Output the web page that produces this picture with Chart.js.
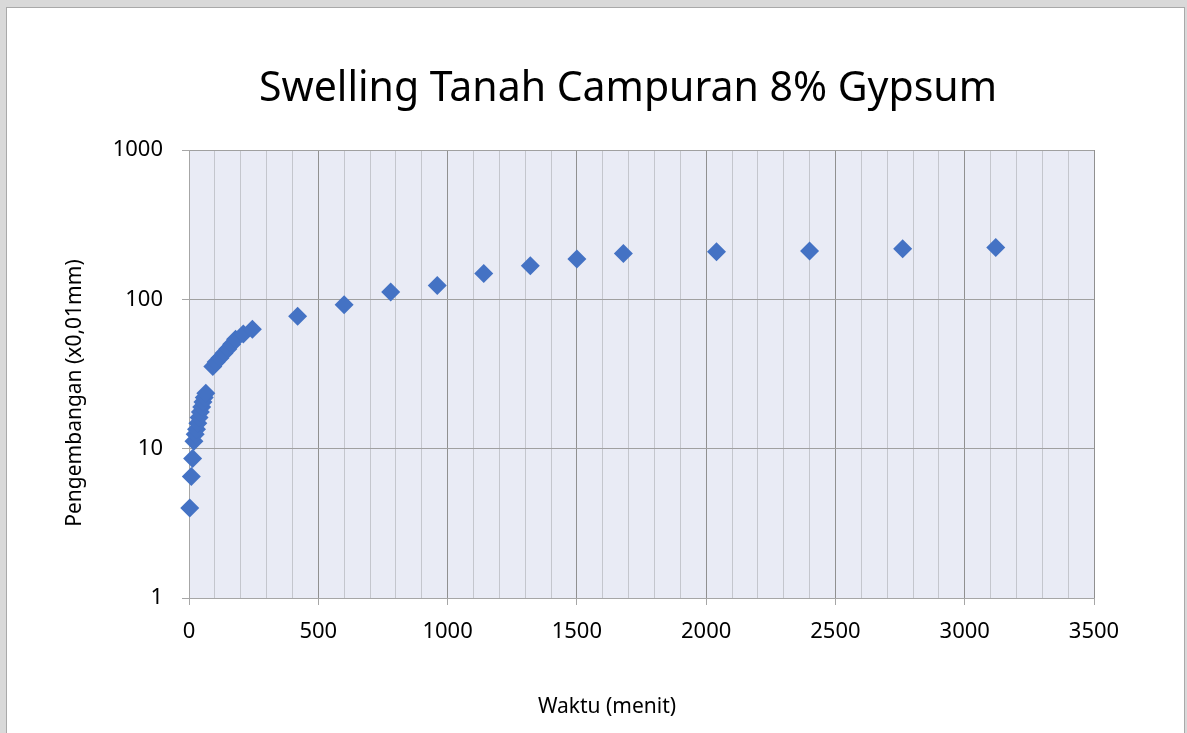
<!DOCTYPE html>
<html>
<head>
<meta charset="utf-8">
<script src="https://cdn.jsdelivr.net/npm/chart.js@4.4.0/dist/chart.umd.min.js"></script>
<style>
  body { margin: 0; background: #d9d9d9; width: 1187px; height: 733px; overflow: hidden; position: relative; }
  #box { position: absolute; left: 6px; top: 7px; width: 1177px; height: 740px; background: #fff; border: 1px solid #a9a9a9; }
  #chart { position: absolute; left: 0; top: 0; }
</style>
</head>
<body>
<div id="box"></div>
<canvas id="chart" width="1187" height="733"></canvas>
<script>
// Data
var waktu = [3, 9, 14, 19, 24, 29, 34, 39, 44, 49, 54, 59, 65,
             92, 105, 120, 135, 150, 165, 180, 210, 245,
             420, 600, 780, 960, 1140, 1320, 1500, 1680, 2040, 2400, 2760, 3120];
var pengembangan = [4.0, 6.5, 8.6, 11.2, 12.5, 13.5, 14.8, 16.2, 17.6, 19.0, 20.5, 22.0, 23.5,
                    35.5, 38.0, 40.5, 43.5, 46.5, 50.0, 54.0, 58.5, 63.0,
                    77, 92, 112, 124, 149, 168, 186, 203, 208, 211, 218, 222];
var yTicks = [1, 10, 100, 1000];
var xMajor = 500;
var xMinor = 100;

var chartTitle = 'Swelling Tanah Campuran 8% Gypsum';
var xTitle = 'Waktu (menit)';
var yTitle = 'Pengembangan (x0,01mm)';

var points = waktu.map(function(t, i) {
  return { x: t, y: pengembangan[i] };
});

var fontFamily = '"Noto Sans", "Open Sans", sans-serif';

// fill the plot area
var plotBg = {
  id: 'plotBg',
  beforeDraw: function(chart) {
    var a = chart.chartArea;
    var ctx = chart.ctx;
    ctx.save();
    ctx.fillStyle = '#e9ebf5';
    ctx.fillRect(a.left, a.top, a.right - a.left, a.bottom - a.top);
    ctx.restore();
  }
};

// chart and axis titles, placed like the excel original (not centred on the plot)
var titles = {
  id: 'titles',
  afterDraw: function(chart) {
    var ctx = chart.ctx;
    ctx.save();
    ctx.fillStyle = '#000';
    ctx.textAlign = 'center';
    ctx.textBaseline = 'middle';
    ctx.font = '41px ' + fontFamily;
    ctx.fillText(chartTitle, 628, 89);
    ctx.font = '21px ' + fontFamily;
    ctx.fillText(xTitle, 607, 707);
    ctx.translate(75, 393);
    ctx.rotate(-Math.PI / 2);
    ctx.fillText(yTitle, 0, 0);
    ctx.restore();
  }
};

var ctx = document.getElementById('chart').getContext('2d');
var myChart = new Chart(ctx, {
  type: 'scatter',
  data: {
    datasets: [{
      label: 'Pengembangan',
      data: points,
      clip: false,
      pointStyle: 'rectRot',
      pointRadius: 9.5,
      pointHoverRadius: 9.5,
      pointBackgroundColor: '#4472c4',
      pointBorderColor: '#4472c4',
      pointBorderWidth: 0
    }]
  },
  options: {
    responsive: false,
    animation: false,
    layout: { padding: { left: 0, right: 93, top: 150, bottom: 0 } },
    plugins: {
      legend: { display: false },
      tooltip: { enabled: false },
      title: { display: false }
    },
    scales: {
      x: {
        type: 'linear',
        min: 0,
        max: 3500,
        afterFit: function(s) { s.height = 135; },
        ticks: {
          stepSize: xMinor,
          autoSkip: false,
          maxRotation: 0,
          padding: 14,
          color: '#000',
          font: { family: fontFamily, size: 22 },
          callback: function(v) { return v % xMajor === 0 ? String(v) : ''; }
        },
        grid: {
          lineWidth: 1,
          tickLength: 7,
          color: function(c) { return c.tick && c.tick.value % xMajor === 0 ? '#909090' : '#c4c6cd'; },
          tickColor: function(c) { return c.tick && c.tick.value % xMajor === 0 ? '#a6a6a6' : 'rgba(0,0,0,0)'; }
        },
        border: { color: '#a6a6a6' }
      },
      y: {
        type: 'logarithmic',
        min: 1,
        max: 1000,
        afterBuildTicks: function(s) {
          s.ticks = yTicks.map(function(v) { return { value: v }; });
        },
        afterFit: function(s) { s.width = 189; },
        ticks: {
          padding: 19,
          color: '#000',
          font: { family: fontFamily, size: 22 },
          callback: function(v) { return String(v); }
        },
        grid: { color: '#a0a0a0', tickColor: '#a6a6a6', tickLength: 7, lineWidth: 1 },
        border: { color: '#a6a6a6' }
      }
    }
  },
  plugins: [plotBg, titles]
});
</script>
</body>
</html>
